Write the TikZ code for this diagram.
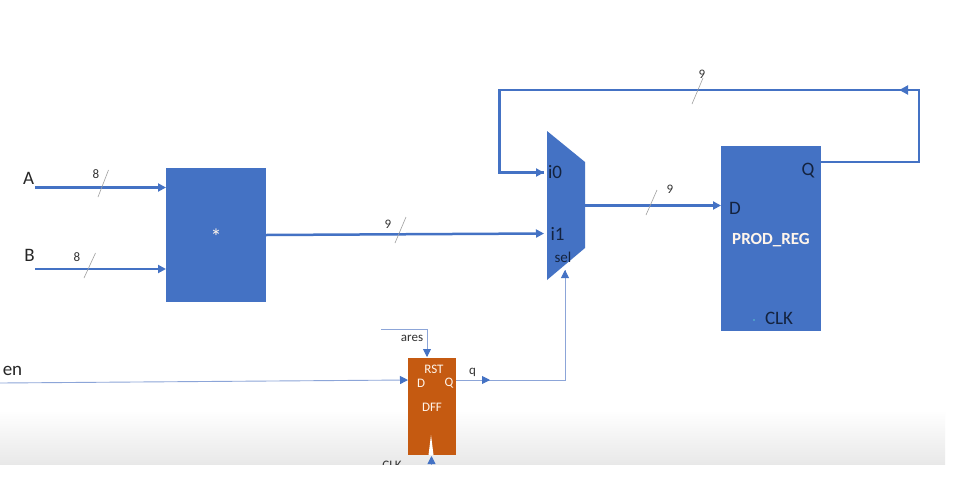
\documentclass[tikz,border=0pt]{standalone}
\usepackage{fontspec}
\setmainfont{Carlito}
\usetikzlibrary{arrows.meta,decorations.markings}
\definecolor{officeblue}{HTML}{4472C4}
\definecolor{thinblue}{HTML}{8CA5D8}
\definecolor{dffbrown}{HTML}{C55A11}
\definecolor{darktext}{HTML}{14233F}
\tikzset{
  x=1pt,y=-1pt,
  bus/.style={draw=officeblue,line width=2.5pt,-{Triangle[length=8pt,width=8pt]}},
  busplain/.style={draw=officeblue,line width=2.5pt},
  wire/.style={draw=thinblue,line width=0.9pt},
  wirearrow/.style={wire,-{Triangle[length=8pt,width=8pt,color=officeblue]}},
  midtip/.style={postaction={decorate},decoration={markings,mark=at position #1 with {\arrow{Triangle[length=9pt,width=9pt,color=officeblue]}}}},
  slashmark/.style={draw=gray!75,line width=0.6pt},
  bluebox/.style={rectangle,draw=none,fill=officeblue,inner sep=0pt,outer sep=0pt},
  brownbox/.style={rectangle,draw=none,fill=dffbrown,inner sep=0pt,outer sep=0pt},
  label/.style={inner sep=0pt,text=black!80,font=\fontsize{13}{13}\selectfont},
  biglabel/.style={inner sep=0pt,text=black!85,font=\fontsize{19}{19}\selectfont},
  inlabel/.style={inner sep=0pt,text=darktext,font=\fontsize{19}{19}\selectfont},
  whitelabel/.style={inner sep=0pt,text=white!92!orange,font=\fontsize{13}{13}\selectfont},
}
\begin{document}
\begin{tikzpicture}
\useasboundingbox (0,0) rectangle (967,480);
\fill[white] (0,0) rectangle (967,480);
% faint screenshot gradient at the bottom
\shade[top color=white,bottom color=black!9] (0,410) rectangle (945,465);

% blocks
\node[bluebox,minimum width=100pt,minimum height=134pt] (mult) at (216,235) {};
\node[bluebox,minimum width=100pt,minimum height=185pt] (reg) at (771,238.5) {};
\node[brownbox,minimum width=48pt,minimum height=97pt] (dff) at (432,406.5) {};
\coordinate (m1) at (547,131);
\coordinate (m2) at (585,162);
\coordinate (m3) at (585,248);
\coordinate (m4) at (547,280);
\fill[officeblue] (m1) -- (m2) -- (m3) -- (m4) -- cycle;
\fill[white] (428.5,455) -- (431,435) -- (433.5,455) -- cycle;

% connector ends
\coordinate (Ain) at (35,187.5);
\coordinate (Bin) at (35,269);
\coordinate (i0) at (544,172.5);
\coordinate (i1) at (544,233.5);
\coordinate (selin) at (565,270);
\coordinate (mo) at (585,205.5);
\coordinate (fbr) at (919,90);
\coordinate (fbl) at (499.5,90);
\coordinate (Enin) at (0,383);
\coordinate (aresin) at (381,329);
\coordinate (clkin) at (431.5,465);

% buses
\draw[bus] (Ain) -- (Ain -| mult.west);
\draw[bus] (Bin) -- (Bin -| mult.west);
\draw[bus] (mult.east |- 0,235) -- (i1);
\draw[bus] (mo) -- (mo -| reg.west);
\draw[busplain,line join=miter,midtip=0.265] (reg.east |- 0,162) -- (919,162) -- (fbr) -- (fbl) -- (fbl |- i0) -- (i0);
\draw[bus] (fbl |- i0) -- (i0);

% thin wires
\draw[wirearrow] (Enin) -- (dff.west |- 0,380);
\draw[wire,line join=miter] (dff.east |- 0,380) -- (565,380) -- (selin);
\draw[wirearrow] (565,290) -- (selin);
\draw[wirearrow] (dff.east |- 0,380) -- (490,380);
\draw[wire] (aresin) -- (427,329) -- (427,356);
\draw[wirearrow] (427,340) -- (427,357);
\draw[wirearrow] (clkin) -- (431.5,456);

% width slashes
\draw[slashmark] (98,197) -- (108.5,170);
\draw[slashmark] (84,278) -- (95.5,253);
\draw[slashmark] (395,243) -- (406,217);
\draw[slashmark] (646,215) -- (657,190);
\draw[slashmark] (692,104) -- (703,78);

% labels
\node[label] (la) at (96,174) {8};
\node[label] (lb) at (77,257) {8};
\node[label] (lm) at (388,224) {9};
\node[label] (lo) at (670,189) {9};
\node[label] (lf) at (702,74) {9};
\node[biglabel] (tA) at (28.5,178.5) {A};
\node[biglabel] (tB) at (29.5,255) {B};
\node[biglabel] (ten) at (12.5,371) {en};
\node[whitelabel,font=\fontsize{22}{22}\selectfont] (star) at (216,237) {*};
\node[inlabel] (ti0) at (555,172.5) {i0};
\node[inlabel] (ti1) at (557.5,234) {i1};
\node[inlabel,font=\fontsize{15}{15}\selectfont] (tsel) at (563,257) {sel};
\node[inlabel] (tD) at (735,208.5) {D};
\node[inlabel] (tQ) at (808,170.5) {Q};
\node[whitelabel,font=\bfseries\fontsize{17}{17}\selectfont] (tprod) at (771,240.5) {PROD\_REG};
\node[inlabel] (tclk) at (779,318.5) {CLK};
\fill[cyan!60!gray] (754,320) circle (1.2pt);
\node[whitelabel] (trst) at (434,369) {RST};
\node[whitelabel] (tdd) at (421,383.5) {D};
\node[whitelabel] (tdq) at (449,383.5) {Q};
\node[whitelabel] (tdff) at (432,407.5) {DFF};
\node[label] (tares) at (412,338.5) {ares};
\node[label] (tq) at (472.5,372.5) {q};
\node[label] (tdclk) at (392,465) {CLK};
% screenshot is cut off below this line
\fill[white] (0,465) rectangle (967,480);
\end{tikzpicture}
\end{document}
